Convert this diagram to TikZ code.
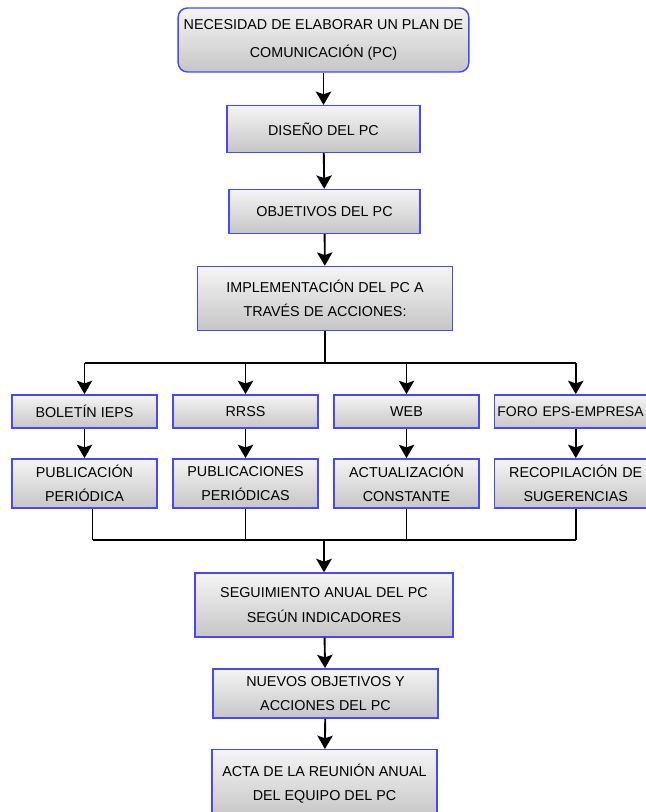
\documentclass[tikz,border=0pt]{standalone}
\usepackage{fontspec}
\setmainfont{Liberation Sans}
\usetikzlibrary{arrows.meta}
\usetikzlibrary{positioning}
\definecolor{boxblue}{RGB}{72,72,255}

\begin{document}
\begin{tikzpicture}[x=0.75pt, y=-0.75pt,
    box/.style={draw=boxblue, line width=1.1pt, top color=gray!8, bottom color=gray!45,
      align=center, inner sep=0pt, font=\fontsize{10.75pt}{18.5pt}\selectfont},
    arr/.style={line width=1.4pt, -{Stealth[length=10pt, width=11.5pt, inset=2pt]}},
    lin/.style={line width=1.4pt}]
    \useasboundingbox (0,0) rectangle (645,812);
    % Main column
    \node[box, rounded corners=7pt, minimum width=218pt, minimum height=48pt] (need) at (323.5,40)
      {NECESIDAD DE ELABORAR UN PLAN DE\\[3pt]COMUNICACIÓN (PC)};
    \node[box, minimum width=145pt, minimum height=35pt] (design) at (323.5,129) {DISEÑO DEL PC};
    \node[box, minimum width=143pt, minimum height=33pt] (goals) at (324.5,211.5) {OBJETIVOS DEL PC};
    \node[box, minimum width=191pt, minimum height=48pt] (impl) at (325,298.5)
      {IMPLEMENTACIÓN DEL PC A\\TRAVÉS DE ACCIONES:};
    \draw[arr] (need) -- (design);
    \draw[arr] (design) -- (goals);
    \draw[arr] (goals) -- (impl);

    % Actions
    \node[box, minimum width=109pt, minimum height=25pt] (news) at (84.5,411.5) {BOLETÍN IEPS};
    \node[box, minimum width=109pt, minimum height=25pt] (rrss) at (245.5,411.5) {RRSS};
    \node[box, minimum width=109pt, minimum height=25pt] (web) at (406.5,411.5) {WEB};
    \node[box, anchor=west, text width=123pt, align=left, inner xsep=2pt, minimum height=25pt,
      font=\fontsize{10.5pt}{18.5pt}\selectfont] (forum) at (494,411.5) {FORO EPS-EMPRESA};

    \node[box, minimum width=109pt, minimum height=37pt] (newsout) at (84.5,483.5) {PUBLICACIÓN\\PERIÓDICA};
    \node[box, minimum width=109pt, minimum height=37pt] (rrssout) at (245.5,483.5) {PUBLICACIONES\\PERIÓDICAS};
    \node[box, minimum width=109pt, minimum height=37pt] (webout) at (406.5,483.5) {ACTUALIZACIÓN\\CONSTANTE};
    \node[box, anchor=west, text width=121.5pt, minimum height=37pt] (forumout) at (494,483.5)
      {RECOPILACIÓN DE\\SUGERENCIAS};

    \coordinate (split) at (325,363);
    \draw[lin] (impl.south) -- (split);
    \draw[lin] (news.north |- split) -- (forumout.north |- split);
    \foreach \n in {news, rrss, web}
      \draw[arr] (\n.north |- split) -- (\n.north);
    \draw[arr] (forumout.north |- split) -- (forumout.north |- forum.north);
    \foreach \n in {news, rrss, web}
      \draw[arr] (\n) -- (\n out);
    \draw[arr] (forumout.north |- forum.south) -- (forumout.north);

    % Follow-up
    \node[box, minimum width=193.5pt, minimum height=48pt] (track) at (324,605)
      {SEGUIMIENTO ANUAL DEL PC\\SEGÚN INDICADORES};
    \node[box, minimum width=168.5pt, minimum height=37pt] (next) at (325.5,693.5)
      {NUEVOS OBJETIVOS Y\\ACCIONES DEL PC};
    \node[box, minimum width=168.5pt, minimum height=51pt, anchor=north] (minutes) at (324.5,749)
      {ACTA DE LA REUNIÓN ANUAL\\DEL EQUIPO DEL PC};

    \coordinate (join) at (324,540);
    \draw[lin] ([xshift=6pt]newsout.south) -- ([xshift=6pt]newsout.south |- join);
    \foreach \n in {rrssout, webout, forumout}
      \draw[lin] (\n.south) -- (\n.south |- join);
    \draw[lin] ([xshift=6pt]newsout.south |- join) -- (forumout.south |- join);
    \draw[arr, line width=2.2pt] (join) -- (track);
    \draw[arr] (track) -- (next);
    \draw[arr] (next) -- (minutes);
\end{tikzpicture}
\end{document}
